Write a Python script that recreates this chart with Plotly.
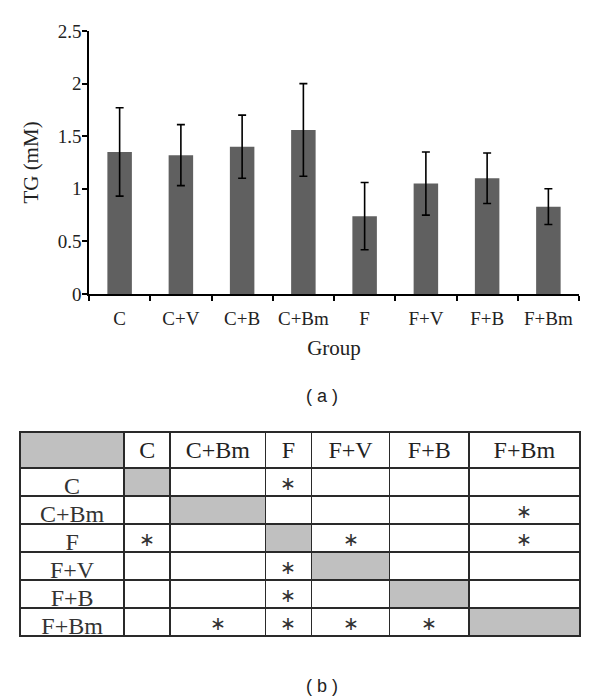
import plotly.graph_objects as go

groups = ['C', 'C+V', 'C+B', 'C+Bm', 'F', 'F+V', 'F+B', 'F+Bm']
tg_mean = [1.35, 1.32, 1.40, 1.56, 0.74, 1.05, 1.10, 0.83]
tg_err = [0.42, 0.29, 0.30, 0.44, 0.32, 0.30, 0.24, 0.17]

# significance table (b)
table_groups = ['C', 'C+Bm', 'F', 'F+V', 'F+B', 'F+Bm']
significant = {
    'C': ['F'],
    'C+Bm': ['F+Bm'],
    'F': ['C', 'F+V', 'F+Bm'],
    'F+V': ['F'],
    'F+B': ['F'],
    'F+Bm': ['C+Bm', 'F', 'F+V', 'F+B'],
}
col_widths = [104, 46, 95, 46, 78, 79, 111]

BAR = '#606060'
GREY = '#c0c0c0'
LINE = '#2a2a2a'
SERIF = 'Liberation Serif'
STAR = '\u2217'

fig = go.Figure()

fig.add_trace(go.Bar(
    x=groups, y=tg_mean, width=0.4,
    marker={'color': BAR, 'line': {'width': 0}},
    error_y={'type': 'data', 'array': tg_err, 'color': 'black',
             'thickness': 1.6, 'width': 4},
    showlegend=False))

# table: first column holds row labels, then one column per group
cols = [table_groups] + [
    [STAR if c in significant[r] else '' for r in table_groups] for c in table_groups]
fills = [['white'] * len(table_groups)] + [
    [GREY if r == c else 'white' for r in table_groups] for c in table_groups]

fig.add_trace(go.Table(
    domain={'x': [20 / 600, 580 / 600], 'y': [0.03, (700 - 432) / 700]},
    columnwidth=col_widths,
    header={'values': [''] + table_groups,
            'fill': {'color': [GREY] + ['white'] * len(table_groups)},
            'line': {'color': LINE, 'width': 1.6},
            'align': 'center', 'height': 36,
            'font': {'family': SERIF, 'size': 24, 'color': '#222222'}},
    cells={'values': cols,
           'fill': {'color': fills},
           'line': {'color': LINE, 'width': 1.6},
           'align': 'center', 'height': 28,
           'font': {'family': SERIF, 'size': [24] + [19] * len(table_groups),
                    'color': '#333333'}}))

fig.update_layout(
    width=600, height=700,
    margin={'l': 0, 'r': 0, 't': 0, 'b': 0, 'autoexpand': False},
    plot_bgcolor='white', paper_bgcolor='white',
    font={'family': SERIF, 'size': 19, 'color': '#222222'},
    xaxis={'domain': [89 / 600, 579 / 600], 'showline': True, 'linecolor': 'black',
           'linewidth': 1.5, 'ticks': 'outside', 'tickson': 'boundaries',
           'ticklen': 5, 'tickcolor': 'black', 'tickwidth': 1.5, 'automargin': False,
           'tickfont': {'size': 19}, 'showgrid': False, 'ticklabelstandoff': 6,
           'title': {'text': 'Group', 'font': {'size': 21}, 'standoff': 13}},
    yaxis={'domain': [(700 - 294) / 700, (700 - 31) / 700], 'range': [0, 2.5],
           'dtick': 0.5, 'showline': True, 'linecolor': 'black', 'linewidth': 1.5,
           'ticks': 'outside', 'ticklen': 5, 'tickcolor': 'black', 'tickwidth': 1.5,
           'tickfont': {'size': 19}, 'showgrid': False, 'zeroline': False,
           'automargin': False, 'ticklabelstandoff': -3,
           'title': {'text': 'TG (mM)', 'font': {'size': 21}, 'standoff': 13}},
    annotations=[
        {'text': '( a )', 'x': 322 / 600, 'y': (700 - 396) / 700, 'xref': 'paper',
         'yref': 'paper', 'yanchor': 'middle', 'showarrow': False,
         'font': {'family': 'Liberation Sans', 'size': 18}},
        {'text': '( b )', 'x': 322 / 600, 'y': (700 - 686) / 700, 'xref': 'paper',
         'yref': 'paper', 'yanchor': 'middle', 'showarrow': False,
         'font': {'family': 'Liberation Sans', 'size': 18}},
    ])

fig.write_html('out.html', config={'displayModeBar': False},
               post_script="document.body.style.margin='0';document.body.style.overflow='hidden';")
